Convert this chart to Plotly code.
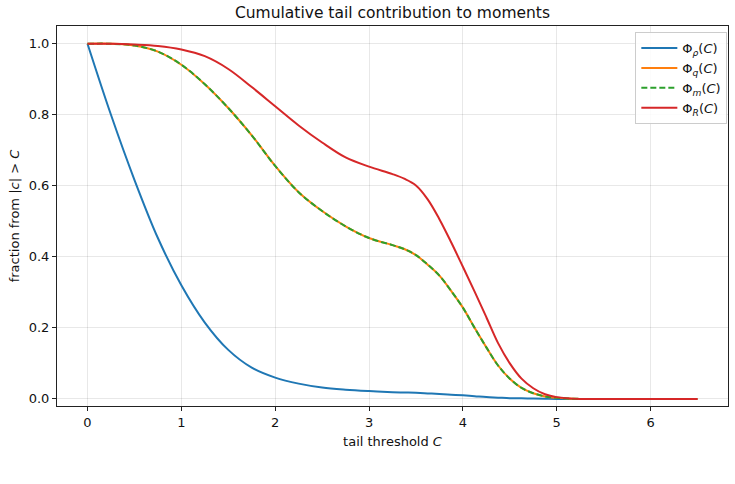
import plotly.graph_objects as go

C = [0.0, 0.25, 0.5, 0.75, 1.0, 1.25, 1.5, 1.75, 2.0, 2.25, 2.5, 2.75, 3.0, 3.25,
     3.375, 3.5, 3.625, 3.75, 3.875, 4.0, 4.125, 4.25, 4.375, 4.5, 4.625, 4.75,
     4.875, 5.0, 5.25, 5.5, 5.75, 6.0, 6.25, 6.5]

phi_rho = [1.0, 0.80, 0.617, 0.453, 0.32, 0.215, 0.138, 0.088, 0.060, 0.043, 0.032,
           0.026, 0.022, 0.019, 0.018, 0.017, 0.0155, 0.014, 0.012, 0.010, 0.0075,
           0.005, 0.0035, 0.002, 0.0015, 0.001, 0.0005, 0.0, 0.0,
           0.0, 0.0, 0.0, 0.0, 0.0]

phi_q = [1.0, 1.0, 0.995, 0.978, 0.941, 0.886, 0.819, 0.742, 0.656, 0.582, 0.529,
         0.486, 0.453, 0.433, 0.422, 0.405, 0.378, 0.347, 0.304, 0.257, 0.200,
         0.145, 0.094, 0.057, 0.031, 0.016, 0.007, 0.003, 0.0,
         0.0, 0.0, 0.0, 0.0, 0.0]

phi_m = list(phi_q)

phi_R = [1.0, 1.0, 0.998, 0.994, 0.984, 0.965, 0.929, 0.878, 0.824, 0.770, 0.722,
         0.680, 0.654, 0.633, 0.620, 0.601, 0.562, 0.506, 0.441, 0.372, 0.302,
         0.230, 0.157, 0.100, 0.057, 0.030, 0.013, 0.005, 0.0,
         0.0, 0.0, 0.0, 0.0, 0.0]

series = [
    ("Φ<sub><i>ρ</i></sub>(<i>C</i>)", phi_rho, "#1f77b4", "solid"),
    ("Φ<sub><i>q</i></sub>(<i>C</i>)", phi_q, "#ff7f0e", "solid"),
    ("Φ<sub><i>m</i></sub>(<i>C</i>)", phi_m, "#2ca02c", "6px,3px"),
    ("Φ<sub><i>R</i></sub>(<i>C</i>)", phi_R, "#d62728", "solid"),
]

fig = go.Figure()
for name, vals, col, dash in series:
    fig.add_trace(go.Scatter(
        x=C, y=vals, mode="lines", name=name,
        line=dict(color=col, width=2, dash=dash, shape="spline", smoothing=1.0),
    ))

axis_common = dict(
    showline=True, linecolor="#222", linewidth=1, mirror=True,
    ticks="outside", ticklen=4, tickcolor="#222",
    showgrid=True, gridcolor="rgba(0,0,0,0.09)", gridwidth=1,
    zeroline=False,
    tickfont=dict(family="DejaVu Sans", size=13, color="#111"),
    title_font=dict(family="DejaVu Sans", size=13, color="#111"),
)

fig.update_layout(
    width=735, height=484,
    margin=dict(l=57, r=7, t=26, b=78),
    paper_bgcolor="white", plot_bgcolor="white",
    title=dict(text="Cumulative tail contribution to moments",
               x=0.5, xref="paper", xanchor="center", y=0.985, yanchor="top",
               font=dict(family="DejaVu Sans", size=15.5, color="#111")),
    font=dict(family="DejaVu Sans", color="#111"),
    xaxis=dict(range=[-0.325, 6.825], tickvals=[0, 1, 2, 3, 4, 5, 6],
               title=dict(text="tail threshold <i>C</i>", standoff=8), **axis_common),
    yaxis=dict(range=[-0.02, 1.05], tickvals=[0, 0.2, 0.4, 0.6, 0.8, 1.0],
               tickformat=".1f",
               title=dict(text="fraction from |<i>c</i>| &gt; <i>C</i>", standoff=6),
               **axis_common),
    legend=dict(x=0.999, y=0.984, xanchor="right", yanchor="top",
                bgcolor="rgba(255,255,255,0.85)", bordercolor="#ccc", borderwidth=1,
                font=dict(family="DejaVu Sans", size=13, color="#111"),
                tracegroupgap=0, itemwidth=36),
    showlegend=True,
)

fig.write_html("out.html")
